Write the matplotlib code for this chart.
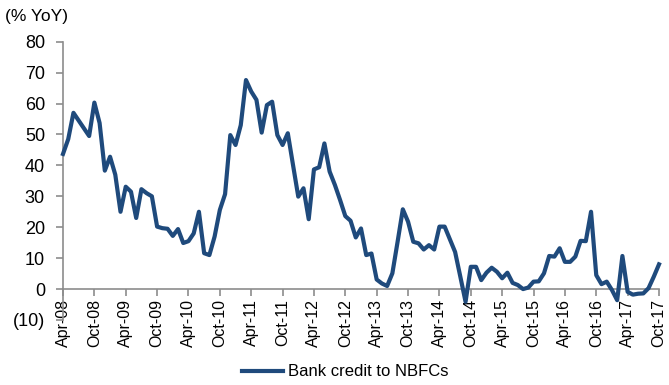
import matplotlib.pyplot as plt
import matplotlib.ticker as mticker
import pandas as pd

# Monthly YoY growth of bank credit to NBFCs, Apr-08 .. Oct-17
months = pd.date_range("2008-04-01", "2017-10-01", freq="MS")
credit_growth = [
    43.7, 48.5, 57.0, 54.5, 52.0, 49.5, 60.3, 53.7, 38.3, 42.8, 37.0, 25.0,
    33.1, 31.5, 23.0, 32.3, 31.0, 30.0, 20.2, 19.7, 19.5, 17.2, 19.4, 14.9,
    15.5, 18.0, 25.0, 11.6, 11.0, 17.0, 25.6, 30.7, 49.8, 46.6, 53.0, 67.6,
    63.9, 61.2, 50.6, 59.5, 60.6, 49.8, 46.6, 50.4, 40.1, 29.9, 32.6, 22.6,
    38.7, 39.4, 47.1, 38.0, 33.7, 28.8, 23.6, 22.1, 16.7, 19.6, 11.0, 11.5,
    3.1, 1.8, 1.0, 5.1, 15.3, 25.8, 21.8, 15.3, 14.8, 12.8, 14.2, 12.8,
    20.2, 20.2, 16.1, 12.0, 4.0, -4.1, 7.2, 7.2, 2.9, 5.3, 6.9, 5.6,
    3.5, 5.3, 2.0, 1.3, 0.0, 0.5, 2.4, 2.5, 5.1, 10.7, 10.5, 13.2,
    8.8, 8.8, 10.5, 15.6, 15.5, 25.0, 4.5, 1.6, 2.4, -0.3, -3.6, 10.7,
    -0.9, -1.8, -1.5, -1.4, 0.3, 4.0, 8.0,
]
month_labels = [d.strftime("%b-%y") for d in months]
y_ticks = [-10, 0, 10, 20, 30, 40, 50, 60, 70, 80]

plt.rcParams["font.family"] = ["Liberation Sans", "DejaVu Sans"]
axis_grey = "#8c8c8c"
line_blue = "#1F4A7C"

fig = plt.figure(figsize=(6.69, 3.85), dpi=100)
ax = fig.add_axes([63 / 669, 1 - 320 / 385, (659 - 63) / 669, (320 - 41.7) / 385])

x = list(range(len(credit_growth)))
ax.plot(x, credit_growth, color=line_blue, lw=3.0, solid_joinstyle="round",
        clip_on=False, label="Bank credit to NBFCs", zorder=3)

ax.set_xlim(0, len(x) - 1)
ax.set_ylim(-10, 80)

# x axis sits on the zero line, Excel style
ax.spines["bottom"].set_position(("data", 0))
ax.spines["top"].set_visible(False)
ax.spines["right"].set_visible(False)
for side in ("left", "bottom"):
    ax.spines[side].set_color(axis_grey)
    ax.spines[side].set_linewidth(1.2)

ax.set_xticks(x[::6])
ax.set_xticklabels(month_labels[::6], rotation=90, fontsize=11.5)
ax.set_yticks(y_ticks)
ax.yaxis.set_major_formatter(mticker.FuncFormatter(
    lambda v, p: f"({abs(v):.0f})" if v < 0 else f"{v:.0f}"))
ax.tick_params(axis="y", labelsize=13, length=5, width=1.2, color=axis_grey, pad=8)
ax.tick_params(axis="x", length=5, width=1.2, color=axis_grey, pad=2)

fig.text(5 / 669, 1 - 17 / 385, "(% YoY)", fontsize=12.5, ha="left", va="center")

fig.legend(loc="center", bbox_to_anchor=(0.516, 1 - 372 / 385), frameon=False,
           fontsize=12, handlelength=2.5, handletextpad=0.3)

fig.savefig("out.png", dpi=100)
